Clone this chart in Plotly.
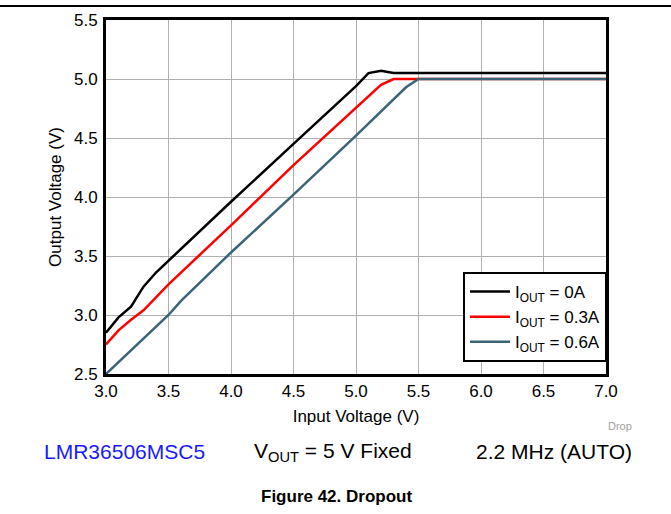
import plotly.graph_objects as go

# Data
vin_0a = [3.0, 3.1, 3.2, 3.3, 3.4, 3.5, 4.0, 4.5, 5.0, 5.1, 5.2, 5.3, 5.5, 6.0, 7.0]
vout_0a = [2.85, 2.98, 3.07, 3.24, 3.36, 3.46, 3.96, 4.45, 4.94, 5.05, 5.07, 5.05, 5.05, 5.05, 5.05]

vin_03a = [3.0, 3.1, 3.2, 3.3, 3.5, 4.0, 4.5, 5.0, 5.1, 5.2, 5.3, 5.5, 6.0, 7.0]
vout_03a = [2.75, 2.87, 2.96, 3.04, 3.26, 3.76, 4.27, 4.76, 4.86, 4.95, 5.0, 5.0, 5.0, 5.0]

vin_06a = [3.0, 3.5, 3.6, 4.0, 4.5, 5.0, 5.4, 5.5, 6.0, 7.0]
vout_06a = [2.5, 3.0, 3.12, 3.53, 4.02, 4.52, 4.93, 5.0, 5.0, 5.0]

x_ticks = [3.0, 3.5, 4.0, 4.5, 5.0, 5.5, 6.0, 6.5, 7.0]
y_ticks = [2.5, 3.0, 3.5, 4.0, 4.5, 5.0, 5.5]

font = "Liberation Sans, Arial, sans-serif"

fig = go.Figure()
fig.add_trace(go.Scatter(x=vin_0a, y=vout_0a, mode="lines", name="I<sub>OUT</sub> = 0A",
                         line=dict(color="#000000", width=2.5)))
fig.add_trace(go.Scatter(x=vin_03a, y=vout_03a, mode="lines", name="I<sub>OUT</sub> = 0.3A",
                         line=dict(color="#ff0000", width=2.5)))
fig.add_trace(go.Scatter(x=vin_06a, y=vout_06a, mode="lines", name="I<sub>OUT</sub> = 0.6A",
                         line=dict(color="#3a6478", width=2.5)))

axis_common = dict(
    showline=True, linecolor="#000000", linewidth=3, mirror=True,
    showgrid=True, gridcolor="#b0b0b0", gridwidth=1,
    zeroline=False, ticks="", tickfont=dict(family=font, size=17, color="#000000"),
    tickformat=".1f", automargin=False,
)

fig.update_xaxes(range=[3.0, 7.0], tickvals=x_ticks, ticklabelstandoff=0,
                 title=dict(text="Input Voltage (V)", font=dict(family=font, size=17, color="#000000"),
                            standoff=10),
                 **axis_common)
fig.update_yaxes(range=[2.5, 5.5], tickvals=y_ticks, ticklabelstandoff=2,
                 title=dict(text="Output Voltage (V)", font=dict(family=font, size=17, color="#000000"),
                            standoff=9),
                 **axis_common)

fig.update_layout(
    width=671, height=514,
    margin=dict(l=106, r=65, t=20, b=140),
    plot_bgcolor="#ffffff", paper_bgcolor="#ffffff",
    font=dict(family=font, size=17, color="#000000"),
    showlegend=True,
    legend=dict(x=1.002, y=0.288, xanchor="right", yanchor="top",
                bordercolor="#000000", borderwidth=2, bgcolor="#ffffff",
                font=dict(family=font, size=17), tracegroupgap=0,
                itemwidth=40),
)

# top rule across the page
fig.add_shape(type="line", xref="paper", yref="paper", x0=-0.212, x1=1.13,
              y0=1.0395, y1=1.0395, line=dict(color="#000000", width=2))

fig.add_annotation(text="Drop", xref="paper", yref="paper", x=1.056, y=-0.148,
                   xanchor="right", yanchor="middle", showarrow=False,
                   font=dict(family=font, size=11, color="#a0a0a0"))
fig.add_annotation(text="LMR36506MSC5", xref="paper", yref="paper", x=-0.128, y=-0.22,
                   xanchor="left", yanchor="middle", showarrow=False,
                   font=dict(family=font, size=21, color="#1a1aff"))
fig.add_annotation(text="V<sub>OUT</sub> = 5 V Fixed", xref="paper", yref="paper", x=0.454, y=-0.22,
                   xanchor="center", yanchor="middle", showarrow=False,
                   font=dict(family=font, size=21, color="#000000"))
fig.add_annotation(text="2.2 MHz (AUTO)", xref="paper", yref="paper", x=1.056, y=-0.22,
                   xanchor="right", yanchor="middle", showarrow=False,
                   font=dict(family=font, size=21, color="#000000"))
fig.add_annotation(text="<b>Figure 42. Dropout</b>", xref="paper", yref="paper", x=0.46, y=-0.347,
                   xanchor="center", yanchor="middle", showarrow=False,
                   font=dict(family=font, size=17, color="#000000"))

# drop the default page margin so the figure sits at the window's top-left
fig.write_html("out.html", config={"displayModeBar": False},
               post_script="document.body.style.margin = '0';")
